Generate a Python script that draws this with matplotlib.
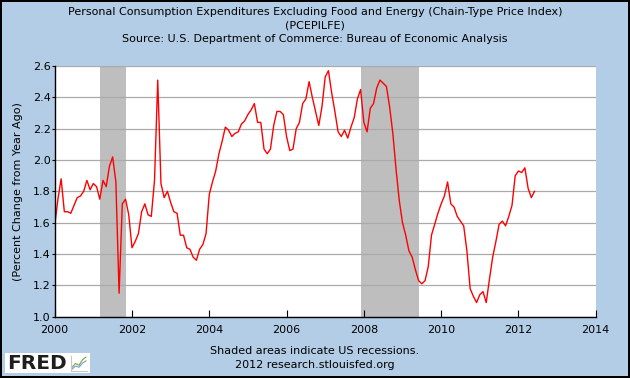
import matplotlib
matplotlib.use("Agg")
import matplotlib.pyplot as plt
from matplotlib.patches import Rectangle
import numpy as np

# PCE excluding food and energy, percent change from year ago, monthly from Jan 2000
start_year = 2000
y2000 = [1.58, 1.75, 1.88, 1.67, 1.67, 1.66, 1.71, 1.76, 1.77, 1.80, 1.87, 1.81]
y2001 = [1.85, 1.83, 1.75, 1.87, 1.83, 1.96, 2.02, 1.86, 1.15, 1.72, 1.75, 1.65]
y2002 = [1.44, 1.48, 1.53, 1.67, 1.72, 1.65, 1.64, 1.87, 2.51, 1.85, 1.76, 1.80]
y2003 = [1.73, 1.67, 1.66, 1.52, 1.52, 1.44, 1.43, 1.38, 1.36, 1.43, 1.46, 1.53]
y2004 = [1.78, 1.86, 1.93, 2.04, 2.12, 2.21, 2.19, 2.15, 2.17, 2.18, 2.23, 2.25]
y2005 = [2.29, 2.32, 2.36, 2.24, 2.24, 2.07, 2.04, 2.07, 2.22, 2.31, 2.31, 2.29]
y2006 = [2.15, 2.06, 2.07, 2.20, 2.24, 2.36, 2.39, 2.50, 2.40, 2.31, 2.22, 2.34]
y2007 = [2.53, 2.57, 2.43, 2.31, 2.18, 2.15, 2.19, 2.14, 2.21, 2.27, 2.39, 2.45]
y2008 = [2.24, 2.18, 2.33, 2.36, 2.46, 2.51, 2.49, 2.47, 2.34, 2.17, 1.94, 1.74]
y2009 = [1.60, 1.52, 1.42, 1.38, 1.30, 1.23, 1.21, 1.23, 1.32, 1.52, 1.59, 1.66]
y2010 = [1.72, 1.77, 1.86, 1.72, 1.70, 1.64, 1.61, 1.58, 1.42, 1.18, 1.13, 1.09]
y2011 = [1.14, 1.16, 1.09, 1.24, 1.38, 1.48, 1.59, 1.61, 1.58, 1.64, 1.71, 1.90]
y2012 = [1.93, 1.92, 1.95, 1.82, 1.76, 1.80]

# recession periods (decimal years)
recession_start = [2001.17, 2007.92]
recession_end = [2001.84, 2009.42]

x_ticks = [2000, 2002, 2004, 2006, 2008, 2010, 2012, 2014]
y_ticks = [1.0, 1.2, 1.4, 1.6, 1.8, 2.0, 2.2, 2.4, 2.6]

values = (y2000 + y2001 + y2002 + y2003 + y2004 + y2005 + y2006 + y2007
          + y2008 + y2009 + y2010 + y2011 + y2012)
dates = start_year + np.arange(len(values)) / 12.0

bg = '#B3CDE6'
fig = plt.figure(figsize=(6.3, 3.78), dpi=100, facecolor=bg,
                 edgecolor='black', linewidth=1.5)
ax = fig.add_axes([0.0868, 0.1622, 0.8588, 0.6632])
ax.set_facecolor('white')

for s, e in zip(recession_start, recession_end):
    ax.axvspan(s, e, color='#BEBEBE', lw=0, zorder=1)

ax.plot(dates, values, color='#FF0000', lw=1.0, zorder=3)

ax.set_xlim(2000, 2014)
ax.set_ylim(1.0, 2.6)
ax.set_xticks(x_ticks)
ax.set_yticks(y_ticks)
ax.set_yticklabels(['%.1f' % v for v in y_ticks])
ax.yaxis.grid(True, color='#AAAAAA', lw=0.9, zorder=2)
ax.set_axisbelow(False)
for sp in ['top', 'right']:
    ax.spines[sp].set_visible(False)
for sp in ['left', 'bottom']:
    ax.spines[sp].set_linewidth(1.0)
    ax.spines[sp].set_zorder(4)
ax.tick_params(axis='x', direction='in', length=5, labelsize=8, pad=6)
ax.tick_params(axis='y', direction='out', length=2, labelsize=8, pad=1)

ax.set_ylabel('(Percent Change from Year Ago)', fontsize=8, labelpad=7)

fig.text(0.5, 1 - 12 / 378, 'Personal Consumption Expenditures Excluding Food and Energy (Chain-Type Price Index)',
         ha='center', va='center', fontsize=8)
fig.text(0.5, 1 - 25.5 / 378, '(PCEPILFE)', ha='center', va='center', fontsize=8)
fig.text(0.5, 1 - 39 / 378, 'Source: U.S. Department of Commerce: Bureau of Economic Analysis',
         ha='center', va='center', fontsize=8)

fig.text(0.5, 1 - 351 / 378, 'Shaded areas indicate US recessions.',
         ha='center', va='center', fontsize=8)
fig.text(0.5, 1 - 365 / 378, '2012 research.stlouisfed.org',
         ha='center', va='center', fontsize=8)

# FRED logo on a white box
fig.patches.append(Rectangle((5 / 630, 1 - 373 / 378), 85 / 630, 20 / 378,
                             transform=fig.transFigure, facecolor='white',
                             edgecolor='none', zorder=0))
fig.text(7 / 630, 1 - 363.5 / 378, 'FRED', ha='left', va='center', fontsize=14.5,
         fontweight='heavy', color='#1E1E1E', zorder=3)
logo = fig.add_axes([71 / 630, 1 - 371 / 378, 16 / 630, 15 / 378])
logo.set_zorder(2)
logo.set_facecolor('white')
logo.plot([0, 1, 2, 3, 4], [1.0, 2.0, 1.5, 3.0, 3.7], color='#6FA84F', lw=0.8)
logo.plot([0, 1, 2, 3, 4], [0.5, 1.3, 1.0, 2.1, 2.7], color='#7F9CC4', lw=0.8)
logo.set_xlim(-0.3, 4.3)
logo.set_ylim(0, 4)
logo.set_xticks([])
logo.set_yticks([])
for sp in ['top', 'right']:
    logo.spines[sp].set_visible(False)
for sp in ['left', 'bottom']:
    logo.spines[sp].set_color('#C8C8C8')
    logo.spines[sp].set_linewidth(0.8)

fig.savefig('out.png', dpi=100, facecolor=bg, edgecolor='black')
